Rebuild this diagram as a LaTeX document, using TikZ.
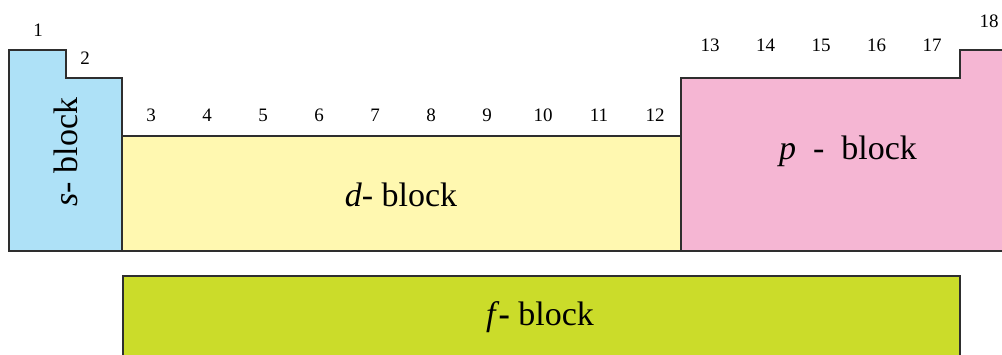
\documentclass[tikz,border=0pt]{standalone}
\usepackage{fontspec}
\setmainfont{Liberation Serif}
\definecolor{sblue}{HTML}{AEE1F7}
\definecolor{dyellow}{HTML}{FFF8B0}
\definecolor{ppink}{HTML}{F5B6D3}
\definecolor{fgreen}{HTML}{CBDC2A}
\definecolor{edge}{HTML}{2E2E2E}
\begin{document}
\begin{tikzpicture}[x=1pt,y=-1pt,
  blockshape/.style={draw=edge,line width=1.5pt,line join=miter},
  grp/.style={inner sep=0pt,font=\fontsize{19}{19}\selectfont},
  blabel/.style={inner sep=0pt,font=\fontsize{34}{34}\selectfont}]
\useasboundingbox (0,0) rectangle (1002,354);
\clip (0,0) rectangle (1002,354);
% blocks
\path[blockshape,fill=sblue] (9,50) -- (66,50) -- (66,78) -- (122,78) -- (122,251) -- (9,251) -- cycle;
\path[blockshape,fill=dyellow] (122,136) rectangle (681,251);
\path[blockshape,fill=ppink] (681,78) -- (960,78) -- (960,50) -- (1012,50) -- (1012,251) -- (681,251) -- cycle;
\path[blockshape,fill=fgreen] (123,276) rectangle (960,362);
% block labels
\node[blabel,rotate=90] (sl) at (66,152) {\textit{s}- block};
\node[blabel] (dl) at (401,195) {\textit{d}- block};
\node[blabel] (pl) at (848,151) {\textit{p}\ \ -\ \ block};
\node[blabel] (fl) at (540,317) {\textit{f}\kern-1pt\textbf{-} block};
% group numbers
\node[grp] (g1) at (38,30) {1};
\node[grp] (g2) at (85,58) {2};
\foreach \i [evaluate=\i as \xx using {151+56*(\i-3)}] in {3,...,12}
  \node[grp] (g\i) at (\xx,115) {\i};
\foreach \i [evaluate=\i as \xx using {710+55.5*(\i-13)}] in {13,...,17}
  \node[grp] (g\i) at (\xx,45) {\i};
\node[grp] (g18) at (989,21) {18};
\end{tikzpicture}
\end{document}
